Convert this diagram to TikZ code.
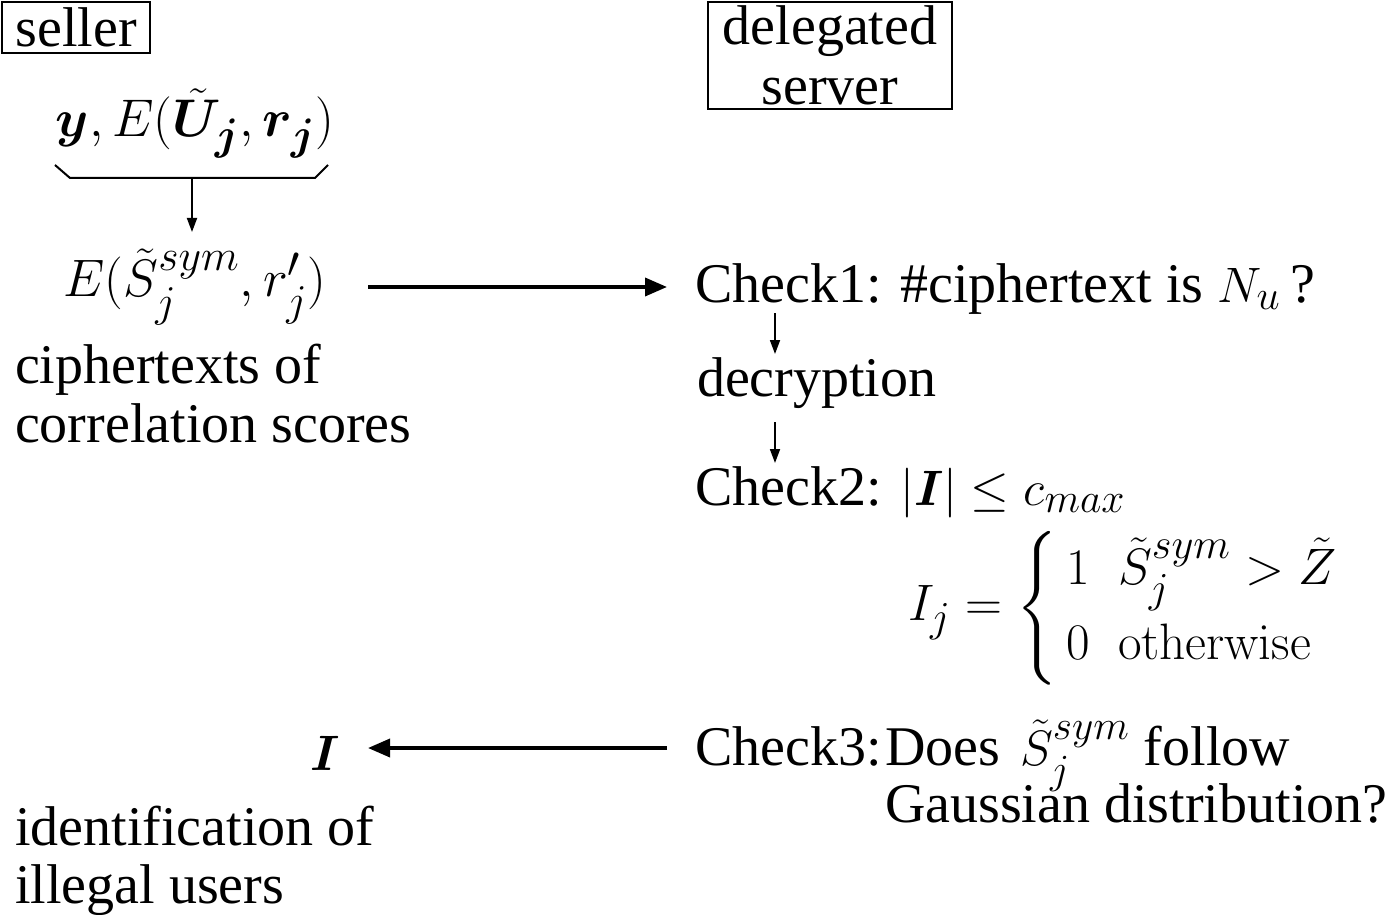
\documentclass[tikz,border=0pt]{standalone}
\usepackage{amsmath}
\usepackage{bm}
\usepackage{graphicx}
\usepackage[no-math]{fontspec}
\setmainfont{Liberation Serif}
\usetikzlibrary{arrows.meta}
\begin{document}
\begin{tikzpicture}[x=0.5pt,y=-0.5pt,
  every node/.style={inner sep=0pt, outer sep=0pt, font=\fontsize{28}{33}\selectfont},
  role/.style={draw, line width=1pt, align=center},
  txt/.style={anchor=base west},
  bigmath/.style={anchor=base, font=\fontsize{30.5}{36}\selectfont},
  bigarrow/.style={line width=1.8pt, -{Triangle[length=11pt,width=9pt]}},
  smallarrow/.style={line width=0.9pt, -{Triangle[length=7pt,width=5pt]}},
  bracket/.style={line width=1pt}
]
\useasboundingbox (0,0) rectangle (1400,914);
% role boxes
\node[role, minimum width=74pt, minimum height=25.5pt] (seller) at (76,27.5) {seller};
\node[role, minimum width=122pt, minimum height=53.5pt] (server) at (830,55.5) {delegated\\[-3pt]server};
% seller side
\node[bigmath] (inputs) at (195,137) {\scalebox{1.065}{$\bm{y}, E(\tilde{\bm{U}}_{\bm{j}}, \bm{r}_{\bm{j}})$}};
\coordinate (bl) at (55,165);
\coordinate (br) at (328,165);
\coordinate (bm) at (192,178);
\draw[bracket] (bl) -- (70,178) -- (315,178) -- (br);
\node[bigmath] (enc) at (195,297) {\scalebox{1.06}{$E(\tilde{S}^{sym}_{j}, r'_{j})$}};
\coordinate (encin) at (192,232);
\draw[smallarrow] (bm) -- (encin);
\node[txt] (cipher) at (15,383) {ciphertexts of};
\node[txt] (corr) at (15,442) {correlation scores};
% server side
\node[txt] (check1) at (695,302) {Check1: \#ciphertext is $N_u$\,?};
\node[txt] (decr) at (697,396) {decryption};
\node[txt] (check2) at (695,505) {Check2: $|\bm{I}|\leq c_{max}$};
\node[anchor=west, font=\fontsize{29}{34}\selectfont] (cases) at (908,608) {\scalebox{1.03}{$I_j=\left\{\begin{array}{@{\,}l@{\;\;}l@{}}1 & \tilde{S}^{sym}_{j}>\tilde{Z}\\[1pt] 0 & \mathrm{otherwise}\end{array}\right.$}};
\node[txt] (check3) at (695,765) {Check3:};
\node[txt] (check3q) at (885,765) {Does\hspace{10pt}$\tilde{S}^{sym}_{j}$\hspace{7pt}follow};
\node[txt] (gauss) at (885,822) {Gaussian distribution?};
% result
\node[txt] (res) at (310,770) {$\bm{I}$};
\node[txt] (ident) at (15,845) {identification of};
\node[txt] (illegal) at (15,903) {illegal users};
% arrows
\coordinate (a1s) at (368,287);
\coordinate (a1e) at (667,287);
\draw[bigarrow] (a1s) -- (a1e);
\coordinate (a2s) at (667,748);
\coordinate (a2e) at (368,748);
\draw[bigarrow] (a2s) -- (a2e);
\coordinate (c1s) at (775,313);
\coordinate (c1e) at (775,354);
\draw[smallarrow] (c1s) -- (c1e);
\coordinate (c2s) at (775,422);
\coordinate (c2e) at (775,463);
\draw[smallarrow] (c2s) -- (c2e);
\end{tikzpicture}
\end{document}
